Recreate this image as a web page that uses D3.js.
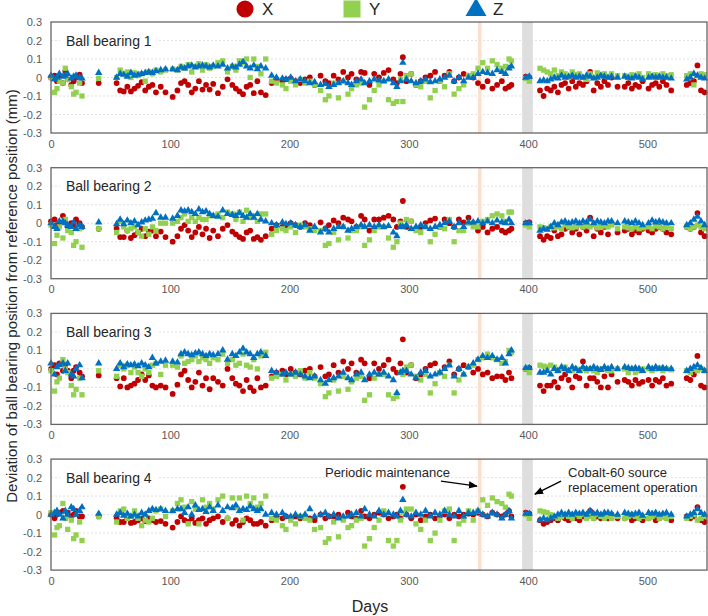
<!DOCTYPE html>
<html>
<head>
<meta charset="utf-8">
<script src="https://cdn.jsdelivr.net/npm/d3@7"></script>
<style>
  body { margin: 0; background: #fff; }
  svg { display: block; font-family: "Liberation Sans", Arial, sans-serif; }
</style>
</head>
<body>
<svg id="chart" width="708" height="616"></svg>
<script>
// measurement days (one row per run of measurements)
const days = [
  0, 3, 5, 7, 10, 12, 14, 17, 19, 21, 24, 26,
  40,
  55, 58, 61, 64, 67, 70, 73, 76, 79, 82, 85, 88, 92, 96, 102, 106, 109, 112, 115, 118, 121, 124, 127, 130, 133, 136, 140, 144, 148, 152, 155, 158, 161, 164, 167, 170, 173, 176, 180,
  185, 189, 194, 197, 201, 205, 209, 213, 217, 221, 226, 230, 233, 237, 241, 245, 249, 252, 256, 260, 263, 267, 271, 275, 279, 283, 287, 290, 293, 295, 298, 302, 306, 310, 314, 318, 322, 326, 330, 334, 338, 342, 346, 350,
  354, 358, 362, 366, 370, 374, 378, 381, 384, 386,
  398, 401,
  410, 413, 416, 419, 422, 425, 428, 431, 434, 437, 440, 443, 446, 449, 452, 455, 458, 461, 464, 467, 470, 475, 481, 484, 487, 490, 493, 496, 501, 504, 507, 510, 513, 516, 520, 533, 536, 539, 542, 545, 548
];

// deviations in mm
const bb1X = [
  0.0, 0.01, -0.02, 0.01, -0.03, 0.035, -0.01, -0.04, -0.02, 0.0, 0.015, -0.03,
  -0.03,
  -0.03, -0.07, -0.075, -0.05, -0.075, -0.06, -0.045, -0.025, -0.07, -0.05, -0.04, -0.08, -0.05, -0.08, -0.105, -0.07, -0.03, -0.02, -0.04, -0.08, -0.06, -0.02, -0.065, -0.04, -0.065, -0.035, -0.085, -0.05, -0.01, -0.04, -0.06, -0.075, -0.09, -0.05, -0.04, -0.085, -0.02, -0.08, -0.095,
  -0.03, -0.01, -0.02, -0.01, -0.005, -0.02, -0.03, -0.01, 0.0, -0.04, 0.01, -0.02, -0.03, 0.01, -0.01, 0.03, 0.0, 0.02, -0.01, 0.03, 0.025, -0.04, 0.02, 0.0, 0.025, 0.04, -0.01, -0.03, 0.02, 0.11, -0.02, 0.02, -0.04, -0.02, 0.0, 0.01, 0.03, -0.02, 0.01, 0.03, -0.02, 0.0, 0.02, 0.01,
  0.0, -0.03, -0.05, -0.02, -0.06, -0.04, -0.02, -0.06, -0.05, -0.04,
  0.005, 0.0,
  -0.07, -0.1, -0.06, -0.07, -0.05, -0.08, -0.04, -0.03, -0.06, -0.02, -0.05, -0.03, -0.04, -0.02, 0.03, -0.07, -0.03, -0.05, -0.02, -0.04, 0.0, -0.05, -0.05, -0.03, -0.06, -0.04, -0.05, -0.02, -0.06, -0.04, -0.03, -0.05, -0.02, -0.04, -0.07, -0.04, -0.03, -0.02, 0.065, -0.07, -0.08
];
const bb1Y = [
  0.0, -0.08, -0.06, -0.02, -0.03, 0.05, -0.01, -0.05, -0.09, -0.08, -0.03, -0.1,
  -0.005,
  0.0, 0.04, 0.02, 0.03, 0.0, 0.025, 0.01, 0.02, -0.02, 0.03, 0.02, 0.04, 0.03, 0.04, 0.045, 0.04, 0.06, 0.05, 0.07, 0.03, 0.06, 0.075, 0.04, 0.07, 0.05, 0.06, 0.08, 0.09, 0.03, 0.06, 0.04, 0.09, 0.08, 0.1, 0.0, 0.1, 0.06, 0.02, 0.1,
  -0.02, -0.03, -0.04, -0.06, -0.02, -0.04, -0.01, -0.03, -0.02, -0.04, -0.07, -0.12, -0.1, -0.03, -0.11, -0.02, -0.09, -0.06, -0.04, -0.03, -0.16, -0.12, -0.07, -0.04, -0.02, -0.12, -0.14, -0.13, -0.01, -0.13, 0.01, 0.02, -0.04, -0.05, -0.02, -0.11, -0.07, -0.02, -0.05, 0.02, -0.09, -0.06, -0.04, 0.01,
  0.02, 0.05, 0.08, 0.05, 0.09, 0.07, 0.05, 0.06, 0.1, 0.09,
  -0.005, -0.02,
  0.05, 0.04, 0.03, 0.02, 0.04, 0.01, 0.03, 0.02, 0.0, 0.03, 0.015, 0.02, 0.0, -0.01, 0.02, 0.0, 0.025, 0.01, 0.02, 0.0, 0.02, 0.01, 0.01, 0.0, 0.015, 0.01, 0.02, 0.0, 0.02, 0.01, 0.015, 0.0, 0.02, 0.01, 0.015, 0.01, 0.02, -0.04, 0.01, 0.02, 0.015
];
const bb1Z = [
  0.01, -0.01, 0.0, 0.02, 0.005, 0.01, 0.02, -0.005, 0.005, 0.01, 0.0, -0.005,
  0.025,
  0.0, 0.02, 0.015, 0.005, 0.025, 0.01, 0.015, 0.02, 0.025, 0.03, 0.025, 0.035, 0.04, 0.045, 0.045, 0.04, 0.055, 0.05, 0.06, 0.065, 0.055, 0.06, 0.065, 0.06, 0.055, 0.065, 0.06, 0.07, 0.05, 0.06, 0.055, 0.07, 0.085, 0.06, 0.05, 0.065, 0.045, 0.06, 0.05,
  0.01, 0.0, -0.005, -0.01, 0.0, -0.02, -0.01, -0.02, -0.03, -0.025, -0.04, -0.035, -0.05, -0.04, -0.03, -0.02, -0.03, -0.04, -0.02, -0.01, -0.03, -0.02, -0.01, -0.015, -0.02, -0.01, -0.03, -0.05, -0.02, 0.08, -0.01, -0.02, -0.03, -0.02, -0.01, -0.025, -0.02, -0.01, 0.0, 0.01, -0.02, 0.0, -0.02, 0.0,
  0.0, 0.02, 0.03, 0.025, 0.02, 0.04, 0.03, 0.02, 0.05, 0.06,
  0.0, 0.005,
  -0.02, -0.015, -0.02, -0.01, 0.0, -0.005, 0.01, 0.0, 0.005, 0.01, 0.0, 0.005, 0.0, 0.01, 0.005, -0.005, 0.0, 0.01, 0.005, 0.0, 0.005, 0.0, 0.005, 0.0, -0.005, 0.005, 0.0, -0.01, 0.0, 0.005, 0.0, 0.005, 0.0, 0.0, -0.005, -0.01, 0.0, 0.02, 0.01, 0.0, -0.005
];

const bb2X = [
  0.01, 0.02, -0.01, 0.0, 0.04, 0.005, -0.02, 0.0, -0.01, 0.02, 0.0, -0.02,
  -0.03,
  -0.03, -0.075, -0.075, -0.04, -0.08, -0.065, -0.05, -0.03, -0.07, -0.045, -0.04, -0.07, -0.045, -0.075, -0.1, -0.07, -0.03, -0.01, -0.04, -0.075, -0.05, -0.02, -0.06, -0.03, -0.08, -0.04, -0.07, -0.03, -0.01, -0.045, -0.06, -0.075, -0.085, -0.05, -0.04, -0.085, -0.075, -0.09, -0.07,
  -0.03, -0.01, -0.02, -0.01, 0.0, -0.01, -0.02, 0.0, -0.01, -0.03, 0.005, -0.03, -0.01, 0.015, 0.0, 0.03, 0.02, 0.01, -0.02, 0.04, 0.02, -0.04, 0.02, 0.02, 0.03, 0.04, 0.02, -0.02, 0.01, 0.12, -0.02, 0.01, -0.03, -0.02, 0.0, 0.015, 0.025, -0.02, 0.02, 0.0, -0.02, 0.02, 0.005, 0.03,
  0.0, -0.04, -0.02, -0.05, -0.03, -0.02, -0.04, -0.05, -0.04, -0.03,
  0.0, 0.005,
  -0.07, -0.09, -0.07, -0.08, -0.04, -0.07, -0.06, -0.03, -0.02, -0.05, -0.03, -0.06, -0.02, -0.04, 0.03, -0.07, -0.03, -0.05, -0.02, -0.06, 0.0, -0.05, -0.04, -0.03, -0.06, -0.04, -0.05, -0.03, -0.04, -0.05, -0.03, -0.02, -0.03, -0.05, -0.06, -0.02, -0.03, -0.02, 0.055, -0.05, -0.07
];
const bb2Y = [
  -0.01, -0.11, -0.065, -0.02, -0.08, 0.02, -0.04, -0.05, -0.12, -0.1, -0.03, -0.13,
  -0.03,
  -0.05, 0.01, -0.02, -0.04, -0.03, -0.02, -0.05, -0.07, -0.03, -0.06, -0.02, -0.04, 0.0, 0.0, 0.0, 0.01, 0.03, 0.05, 0.01, 0.03, 0.01, 0.03, 0.02, 0.02, 0.04, 0.04, 0.05, 0.03, 0.06, 0.05, 0.02, 0.06, 0.01, 0.07, 0.03, 0.04, 0.01, 0.05, 0.05,
  -0.06, -0.04, -0.03, -0.04, -0.02, -0.05, -0.01, -0.02, -0.03, -0.04, -0.04, -0.12, -0.11, -0.05, -0.09, -0.02, -0.08, -0.04, -0.04, -0.02, -0.12, -0.09, -0.04, -0.02, -0.02, -0.08, -0.13, -0.1, 0.0, -0.02, 0.02, 0.01, -0.04, -0.05, -0.02, -0.1, -0.06, -0.02, -0.03, 0.02, -0.1, -0.04, -0.04, 0.0,
  -0.02, -0.02, 0.01, 0.02, 0.04, 0.05, 0.04, 0.01, 0.06, 0.06,
  -0.01, -0.02,
  -0.02, -0.025, -0.03, -0.02, -0.025, -0.02, -0.03, -0.01, -0.02, -0.025, -0.02, -0.01, -0.02, -0.015, -0.02, -0.01, -0.025, -0.02, -0.015, -0.02, -0.01, -0.03, -0.02, -0.025, -0.03, -0.02, -0.03, -0.025, -0.02, -0.03, -0.015, -0.02, -0.03, -0.02, -0.03, -0.02, -0.03, -0.02, -0.01, -0.02, -0.03
];
const bb2Z = [
  0.0, -0.02, -0.03, 0.01, 0.01, 0.0, -0.01, -0.02, 0.005, -0.03, -0.01, -0.02,
  0.005,
  -0.005, 0.02, -0.005, 0.015, 0.0, 0.01, -0.01, 0.005, 0.015, 0.02, 0.025, 0.055, 0.03, 0.03, 0.025, 0.04, 0.07, 0.065, 0.07, 0.06, 0.05, 0.075, 0.06, 0.065, 0.05, 0.04, 0.035, 0.07, 0.05, 0.045, 0.04, 0.055, 0.04, 0.03, 0.05, 0.03, 0.05, 0.02, 0.01,
  0.0, -0.01, 0.005, -0.005, 0.0, -0.01, -0.02, -0.01, -0.04, -0.02, -0.05, -0.03, -0.05, -0.03, -0.02, -0.02, -0.04, -0.03, -0.02, -0.01, -0.02, -0.01, -0.02, -0.01, -0.02, -0.015, -0.05, -0.07, -0.02, -0.02, -0.01, -0.03, -0.02, -0.01, -0.02, -0.03, -0.02, -0.01, 0.0, 0.01, -0.02, 0.0, -0.02, 0.005,
  0.005, 0.01, 0.0, 0.01, 0.0, 0.015, 0.005, 0.0, 0.02, 0.0,
  0.0, 0.0,
  -0.04, -0.03, -0.035, -0.02, 0.0, -0.01, 0.005, 0.01, 0.0, 0.005, 0.01, 0.0, 0.01, 0.005, 0.02, 0.0, 0.01, 0.005, 0.0, 0.01, 0.01, 0.0, 0.01, 0.005, 0.0, 0.01, 0.0, -0.01, 0.0, 0.015, 0.005, 0.01, 0.005, 0.0, 0.0, -0.01, 0.0, 0.02, 0.035, 0.01, -0.01
];

const bb3X = [
  0.0, 0.02, -0.03, 0.03, -0.01, 0.02, -0.01, -0.05, -0.01, 0.01, -0.02, -0.04,
  -0.035,
  -0.05, -0.095, -0.05, -0.1, -0.09, -0.08, -0.06, -0.03, -0.06, -0.035, -0.09, -0.1, -0.09, -0.1, -0.135, -0.085, -0.03, -0.01, -0.06, -0.1, -0.07, -0.02, -0.09, -0.05, -0.11, -0.05, -0.07, -0.09, 0.0, -0.05, -0.08, -0.09, -0.12, -0.06, -0.1, -0.12, -0.05, -0.1, -0.09,
  -0.04, -0.02, -0.01, -0.03, 0.0, -0.02, -0.03, -0.01, 0.0, -0.04, 0.01, -0.04, -0.03, 0.02, -0.02, 0.04, 0.0, 0.03, -0.02, 0.05, 0.03, -0.05, 0.03, 0.0, 0.02, 0.05, 0.0, -0.02, 0.03, 0.16, -0.02, 0.02, -0.05, -0.03, 0.0, 0.02, 0.03, -0.02, 0.01, 0.04, -0.03, 0.0, 0.02, 0.01,
  -0.02, 0.0, -0.03, -0.02, -0.05, -0.04, -0.04, -0.06, -0.02, -0.05,
  0.0, 0.005,
  -0.09, -0.12, -0.09, -0.09, -0.07, -0.1, -0.05, -0.03, -0.06, -0.1, -0.04, -0.05, 0.04, -0.09, -0.05, -0.05, -0.07, -0.1, -0.04, -0.1, -0.03, -0.07, -0.06, -0.07, -0.09, -0.06, -0.08, -0.07, -0.06, -0.09, -0.06, -0.07, -0.05, -0.09, -0.08, -0.05, -0.06, -0.03, 0.07, -0.09, -0.1
];
const bb3Y = [
  -0.01, -0.12, -0.07, -0.05, 0.05, 0.0, -0.02, -0.09, -0.14, -0.11, -0.05, -0.14,
  -0.01,
  -0.04, 0.02, 0.0, 0.02, -0.02, 0.01, -0.02, -0.04, 0.0, -0.02, 0.02, 0.03, -0.03, 0.02, 0.02, 0.01, 0.07, 0.03, 0.04, 0.05, 0.07, 0.04, 0.06, 0.05, 0.03, 0.06, 0.05, 0.08, 0.03, 0.05, 0.02, 0.03, 0.08, 0.02, 0.01, 0.05, 0.0, 0.07, 0.09,
  -0.05, -0.04, -0.03, -0.06, -0.03, -0.04, -0.01, -0.05, -0.02, -0.05, -0.08, -0.15, -0.13, -0.06, -0.12, -0.04, -0.11, -0.07, -0.05, -0.04, -0.17, -0.14, -0.05, -0.03, -0.03, -0.14, -0.16, -0.15, -0.02, -0.03, 0.01, 0.02, -0.04, -0.06, -0.03, -0.13, -0.08, -0.02, -0.04, 0.02, -0.13, -0.06, -0.03, 0.01,
  0.02, 0.05, 0.06, 0.08, 0.06, 0.05, 0.03, 0.04, 0.1, 0.09,
  0.0, -0.02,
  0.02, 0.015, 0.01, 0.02, 0.01, -0.01, 0.0, 0.01, -0.01, -0.01, 0.0, -0.01, 0.0, -0.01, 0.0, -0.01, -0.02, 0.0, 0.0, -0.01, -0.01, 0.0, 0.0, -0.02, 0.0, -0.02, -0.01, 0.0, 0.0, -0.01, 0.0, 0.005, -0.01, 0.0, -0.005, -0.01, -0.02, 0.0, -0.01, 0.0, -0.01
];
const bb3Z = [
  0.03, -0.03, 0.01, 0.02, 0.03, -0.01, 0.03, -0.03, -0.04, 0.0, 0.02, -0.05,
  0.03,
  0.0, 0.03, 0.01, 0.025, 0.02, 0.025, 0.015, 0.03, 0.02, 0.01, 0.06, 0.03, 0.04, 0.045, 0.04, 0.035, 0.08, 0.09, 0.08, 0.075, 0.085, 0.09, 0.08, 0.07, 0.08, 0.075, 0.08, 0.1, 0.05, 0.08, 0.07, 0.09, 0.11, 0.09, 0.08, 0.06, 0.08, 0.09, 0.07,
  -0.01, -0.02, -0.03, -0.02, -0.03, -0.02, -0.03, -0.04, -0.05, -0.04, -0.06, -0.08, -0.06, -0.05, -0.04, -0.02, -0.05, -0.06, -0.03, -0.02, -0.06, -0.03, -0.02, -0.03, -0.02, -0.04, -0.06, -0.13, -0.02, -0.01, -0.01, -0.03, -0.05, -0.02, -0.01, -0.04, -0.03, -0.02, 0.0, 0.02, -0.04, 0.0, -0.03, 0.01,
  0.03, 0.05, 0.07, 0.06, 0.07, 0.05, 0.06, 0.03, 0.08, 0.1,
  0.005, 0.005,
  -0.02, -0.02, -0.01, -0.03, 0.0, -0.01, 0.01, 0.0, -0.01, 0.01, 0.0, -0.01, 0.01, 0.0, 0.0, 0.01, 0.0, -0.005, 0.01, 0.0, 0.01, 0.0, 0.01, 0.005, 0.0, 0.005, 0.0, -0.01, 0.01, 0.0, 0.01, 0.0, 0.005, 0.0, 0.0, -0.01, 0.0, 0.01, 0.02, 0.005, -0.01
];

const bb4X = [
  0.0, -0.02, 0.0, 0.01, 0.02, -0.02, 0.01, -0.01, 0.0, 0.02, -0.01, -0.01,
  -0.01,
  -0.02, -0.04, -0.04, -0.02, -0.045, -0.04, -0.03, -0.02, -0.035, -0.02, -0.03, -0.04, -0.035, -0.05, -0.07, -0.04, -0.01, -0.03, -0.04, -0.02, -0.045, -0.03, -0.02, -0.05, -0.03, -0.02, -0.01, -0.04, -0.02, -0.05, -0.03, -0.06, -0.04, -0.02, -0.03, -0.05, -0.05, -0.04, -0.06,
  -0.03, -0.01, -0.02, -0.01, -0.02, -0.01, -0.02, -0.01, -0.02, -0.03, 0.0, -0.02, -0.01, -0.01, 0.0, -0.02, 0.01, -0.01, -0.02, 0.02, -0.01, -0.02, 0.0, 0.01, 0.0, -0.02, -0.01, 0.0, -0.02, 0.15, 0.0, -0.02, 0.0, -0.03, -0.01, 0.0, -0.02, -0.01, 0.0, -0.02, 0.0, -0.01, 0.0, 0.005,
  0.0, 0.01, 0.0, -0.01, 0.01, 0.0, -0.01, 0.0, 0.02, -0.01,
  0.01, 0.005,
  -0.03, -0.05, -0.04, -0.03, -0.02, -0.03, -0.01, -0.02, -0.03, -0.02, -0.02, -0.03, -0.01, 0.0, 0.02, -0.02, -0.01, -0.02, -0.01, -0.02, 0.0, -0.02, -0.02, -0.01, -0.03, -0.02, -0.02, -0.03, -0.02, -0.01, -0.03, -0.02, -0.01, -0.02, -0.03, -0.01, -0.02, -0.01, 0.04, -0.03, -0.04
];
const bb4Y = [
  0.01, -0.11, -0.07, -0.06, 0.06, -0.02, -0.08, -0.03, -0.13, -0.11, -0.04, -0.14,
  -0.01,
  -0.04, 0.02, 0.03, -0.02, -0.01, 0.02, -0.02, -0.06, -0.03, -0.04, -0.02, 0.02, 0.03, -0.01, 0.02, 0.06, 0.08, 0.04, -0.05, 0.07, 0.03, -0.05, 0.08, 0.04, 0.06, 0.03, 0.08, 0.1, -0.02, 0.09, 0.04, 0.09, -0.03, 0.1, 0.06, 0.09, 0.04, 0.06, 0.1,
  -0.02, -0.03, -0.06, -0.08, -0.03, -0.05, -0.01, -0.02, -0.03, -0.08, -0.07, -0.15, -0.13, -0.04, -0.12, -0.03, -0.07, -0.06, -0.03, -0.02, -0.17, -0.13, -0.07, -0.03, 0.02, -0.14, -0.17, -0.14, -0.03, 0.01, 0.03, 0.03, -0.05, -0.08, -0.03, -0.14, -0.1, -0.03, 0.02, 0.03, -0.14, -0.05, -0.03, 0.02,
  -0.03, 0.02, 0.08, 0.05, 0.09, 0.07, 0.06, 0.04, 0.11, 0.1,
  0.0, -0.02,
  0.02, 0.015, 0.01, 0.0, -0.01, -0.02, -0.01, 0.0, -0.01, -0.02, 0.0, -0.01, 0.0, -0.02, -0.01, -0.02, 0.0, -0.01, -0.02, -0.01, -0.02, -0.01, -0.02, -0.01, 0.0, -0.01, -0.02, -0.01, -0.02, -0.01, 0.0, -0.02, -0.01, -0.02, -0.01, -0.02, -0.01, 0.0, -0.03, -0.02, -0.01
];
const bb4Z = [
  0.0, 0.01, 0.02, 0.0, -0.02, 0.02, 0.0, 0.04, 0.03, 0.0, 0.02, 0.04,
  0.005,
  0.0, 0.01, -0.005, 0.005, -0.01, 0.0, -0.01, 0.01, 0.0, 0.02, 0.03, 0.025, 0.03, 0.02, 0.02, 0.03, 0.03, 0.01, 0.04, 0.0, 0.05, 0.025, 0.03, 0.015, 0.04, 0.02, 0.05, 0.02, 0.04, 0.035, 0.05, 0.02, 0.03, 0.025, 0.045, 0.03, 0.02, 0.03, 0.0,
  0.01, 0.0, 0.01, -0.01, -0.01, 0.0, -0.01, 0.0, 0.03, -0.01, 0.0, 0.01, -0.01, 0.0, -0.02, -0.01, -0.01, 0.0, 0.01, -0.01, 0.03, 0.0, -0.01, 0.02, 0.0, 0.01, 0.0, -0.01, 0.02, 0.08, 0.0, -0.01, 0.01, 0.0, 0.02, -0.01, 0.01, 0.0, 0.02, 0.0, -0.01, 0.02, -0.01, 0.01,
  0.01, 0.02, 0.0, -0.01, 0.01, 0.0, -0.02, 0.0, 0.02, -0.02,
  0.005, 0.005,
  -0.03, -0.02, -0.03, -0.02, -0.01, 0.0, 0.01, 0.0, 0.01, 0.0, 0.01, 0.005, 0.01, 0.0, 0.02, 0.005, 0.01, 0.0, 0.01, 0.01, 0.005, 0.0, 0.01, 0.005, 0.0, 0.005, 0.01, -0.005, 0.01, 0.005, 0.01, 0.0, 0.005, 0.01, 0.0, -0.01, 0.0, 0.01, 0.03, 0.01, 0.0
];

const panelNames = ["Ball bearing 1", "Ball bearing 2", "Ball bearing 3", "Ball bearing 4"];
const seriesNames = ["X", "Y", "Z"];
const yTicks = [0.3, 0.2, 0.1, 0, -0.1, -0.2, -0.3];
const yTickLabels = ["0.3", "0.2", "0.1", "0", "-0.1", "-0.2", "-0.3"];
const xTicks = [0, 100, 200, 300, 400, 500];
const maintenanceBand = [358, 361];
const cobaltBand = [395, 404];

const bearings = [
  [bb1X, bb1Y, bb1Z],
  [bb2X, bb2Y, bb2Z],
  [bb3X, bb3Y, bb3Z],
  [bb4X, bb4Y, bb4Z]
];

const colors = { X: "#c00000", Y: "#92d050", Z: "#0070c0" };
const symbols = { X: d3.symbolCircle, Y: d3.symbolSquare, Z: d3.symbolTriangle };
const sizes = { X: 26, Y: 28, Z: 24 };

const svg = d3.select("#chart");
const x = d3.scaleLinear().domain([0, 550]).range([51, 707]);
const panelH = 111;
const panelTop = i => 22 + i * 145.7;

bearings.forEach(function (series, i) {
  const top = panelTop(i);
  const y = d3.scaleLinear().domain([-0.3, 0.3]).range([top + panelH, top]);
  const g = svg.append("g");

  // grid
  g.selectAll("line.grid")
    .data([0.2, 0.1, 0, -0.1, -0.2])
    .join("line")
    .attr("x1", x(0)).attr("x2", x(550))
    .attr("y1", d => y(d)).attr("y2", d => y(d))
    .attr("stroke", "#d9d9d9")
    .attr("stroke-width", 0.8)
    .attr("stroke-dasharray", "2,2");

  // shaded periods
  g.append("rect")
    .attr("x", x(maintenanceBand[0])).attr("y", top)
    .attr("width", x(maintenanceBand[1]) - x(maintenanceBand[0]))
    .attr("height", panelH)
    .attr("fill", "#fbe0d0");
  g.append("rect")
    .attr("x", x(cobaltBand[0])).attr("y", top)
    .attr("width", x(cobaltBand[1]) - x(cobaltBand[0]))
    .attr("height", panelH)
    .attr("fill", "#dedede");

  // label with white background
  const label = g.append("text")
    .attr("x", 66).attr("y", y(0.2) + 5)
    .attr("font-size", 14).attr("fill", "#262626")
    .text(panelNames[i]);
  const bb = label.node().getBBox();
  g.insert("rect", "text")
    .attr("x", bb.x - 6).attr("y", bb.y - 2)
    .attr("width", bb.width + 12).attr("height", bb.height + 4)
    .attr("fill", "#fff");

  // points
  seriesNames.forEach(function (name, k) {
    const pts = days.map((d, j) => [d, series[k][j]]).filter(p => p[1] !== undefined);
    g.append("g").selectAll("path")
      .data(pts)
      .join("path")
      .attr("transform", p => `translate(${x(p[0])},${y(p[1])})`)
      .attr("d", d3.symbol().type(symbols[name]).size(sizes[name]))
      .attr("fill", colors[name]);
  });

  // frame
  g.append("rect")
    .attr("x", x(0)).attr("y", top)
    .attr("width", x(550) - x(0)).attr("height", panelH)
    .attr("fill", "none")
    .attr("stroke", "#666")
    .attr("stroke-width", 1.3);

  // axes
  const ya = g.append("g")
    .attr("transform", `translate(${x(0)},0)`)
    .call(d3.axisLeft(y).tickValues(yTicks).tickSize(0).tickPadding(9)
      .tickFormat((d, j) => yTickLabels[j]));
  const xa = g.append("g")
    .attr("transform", `translate(0,${top + panelH})`)
    .call(d3.axisBottom(x).tickValues(xTicks).tickSize(0).tickPadding(7));
  [ya, xa].forEach(a => {
    a.select(".domain").remove();
    a.selectAll("text")
      .attr("font-family", "Liberation Sans, Arial, sans-serif")
      .attr("font-size", 11).attr("fill", "#595959");
  });
});

// legend
const legendX = [245, 352, 476];
seriesNames.forEach(function (name, k) {
  svg.append("path")
    .attr("transform", `translate(${legendX[k]},${k === 2 ? 10 : 9})`)
    .attr("d", d3.symbol().type(symbols[name]).size(k === 0 ? 230 : k === 1 ? 290 : 190))
    .attr("fill", colors[name]);
  svg.append("text")
    .attr("x", legendX[k] + 17).attr("y", 15)
    .attr("font-size", 17).attr("fill", "#262626")
    .text(name);
});

// axis titles
svg.append("text")
  .attr("transform", "translate(17,296) rotate(-90)")
  .attr("text-anchor", "middle")
  .attr("font-size", 15).attr("fill", "#262626")
  .text("Deviation of ball bearing position from reference position (mm)");
svg.append("text")
  .attr("x", 370).attr("y", 612)
  .attr("text-anchor", "middle")
  .attr("font-size", 16).attr("fill", "#262626")
  .text("Days");

// annotations in panel 4
const top4 = panelTop(3);
const ann = svg.append("g").attr("font-size", 13).attr("fill", "#262626");
svg.append("defs").append("marker")
  .attr("id", "arrow").attr("viewBox", "0 0 10 10")
  .attr("refX", 9).attr("refY", 5)
  .attr("markerWidth", 7).attr("markerHeight", 7)
  .attr("orient", "auto")
  .append("path").attr("d", "M0,1 L10,5 L0,9 z").attr("fill", "#000");
ann.append("text").attr("x", 450).attr("y", top4 + 18).attr("text-anchor", "end")
  .text("Periodic maintenance");
ann.append("text").attr("x", 568).attr("y", top4 + 18).text("Cobalt-60 source");
ann.append("text").attr("x", 568).attr("y", top4 + 33).text("replacement operation");
svg.append("line")
  .attr("x1", 441).attr("y1", top4 + 22).attr("x2", x(358) - 1).attr("y2", top4 + 27)
  .attr("stroke", "#000").attr("stroke-width", 1.3).attr("marker-end", "url(#arrow)");
svg.append("line")
  .attr("x1", 561).attr("y1", top4 + 22).attr("x2", x(404) + 2).attr("y2", top4 + 35)
  .attr("stroke", "#000").attr("stroke-width", 1.3).attr("marker-end", "url(#arrow)");
</script>
</body>
</html>
